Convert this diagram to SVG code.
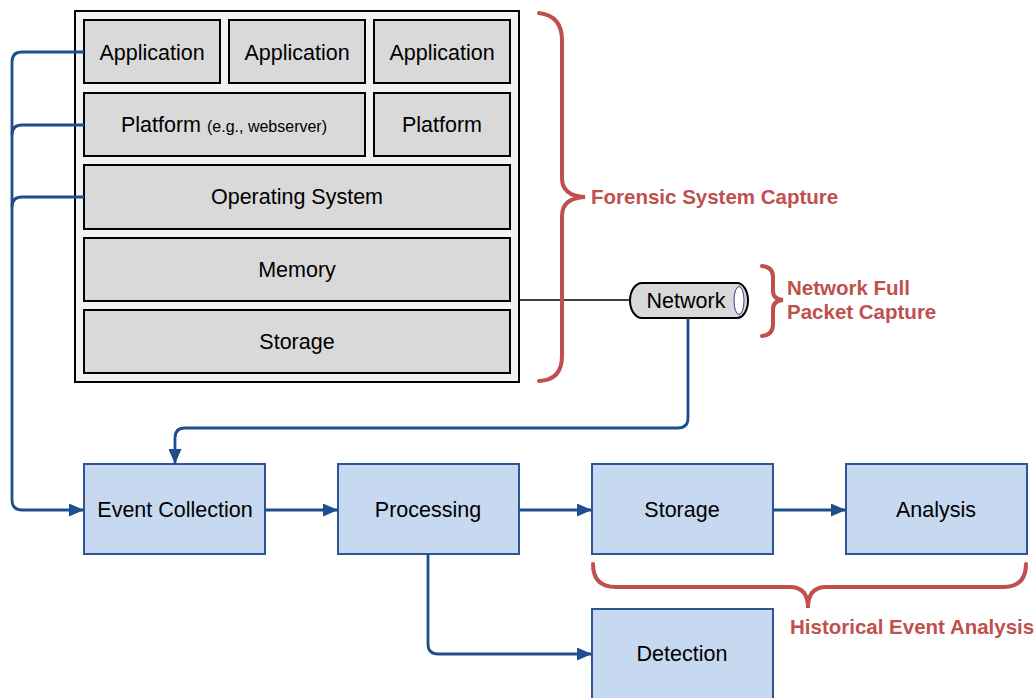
<svg xmlns="http://www.w3.org/2000/svg" width="1035" height="698" viewBox="0 0 1035 698">
<style>
.gray{fill:#d9d9d9;stroke:#000;stroke-width:2}
.blue{fill:#c6d9f0;stroke:#2f5597;stroke-width:2}
.t{font-family:"Liberation Sans",Arial,sans-serif;font-size:21.5px;fill:#000;text-anchor:middle}
.s{font-size:16px}
.r{font-family:"Liberation Sans",Arial,sans-serif;font-size:20.5px;font-weight:bold;fill:#c0504d}
.con{fill:none;stroke:#1f4e8c;stroke-width:2.8}
.br{fill:none;stroke:#c0504d;stroke-width:4;stroke-linecap:round}
</style>
<defs>
<marker id="ah" viewBox="0 0 15 13" refX="15" refY="6.5" markerWidth="15" markerHeight="13" markerUnits="userSpaceOnUse" orient="auto">
<path d="M0,0 L15,6.5 L0,13 Z" fill="#1f4e8c"/>
</marker>
</defs>
<rect width="1035" height="698" fill="#fff"/>
<g id="system">
<rect x="75" y="11" width="444" height="371" fill="#f2f2f2" stroke="#000" stroke-width="2"/>
</g>
<g id="app1"><rect class="gray" x="84" y="20" width="136" height="63"/><text class="t" x="152" y="60">Application</text></g>
<g id="app2"><rect class="gray" x="229" y="20" width="136" height="63"/><text class="t" x="297" y="60">Application</text></g>
<g id="app3"><rect class="gray" x="374" y="20" width="136" height="63"/><text class="t" x="442" y="60">Application</text></g>
<g id="platform1"><rect class="gray" x="84" y="93" width="281" height="63"/><text class="t" x="224" y="132">Platform <tspan class="s">(e.g., webserver)</tspan></text></g>
<g id="platform2"><rect class="gray" x="374" y="93" width="136" height="63"/><text class="t" x="442" y="132">Platform</text></g>
<g id="os"><rect class="gray" x="84" y="165" width="426" height="64"/><text class="t" x="297" y="204">Operating System</text></g>
<g id="memory"><rect class="gray" x="84" y="238" width="426" height="63"/><text class="t" x="297" y="277">Memory</text></g>
<g id="storage-layer"><rect class="gray" x="84" y="310" width="426" height="63"/><text class="t" x="297" y="349">Storage</text></g>
<g id="network">
<path d="M642,283 H737 A11,17.5 0 0 1 737,318 H642 A12,17.5 0 0 1 642,283 Z" fill="#d9d9d9" stroke="#000" stroke-width="2"/>
<ellipse cx="739" cy="300.5" rx="5" ry="14" fill="#fff" stroke="#3a3a9a" stroke-width="1"/>
<text class="t" x="686" y="308">Network</text>
</g>
<g id="event-collection"><rect class="blue" x="84" y="464" width="181" height="90"/><text class="t" x="175" y="517">Event Collection</text></g>
<g id="processing"><rect class="blue" x="338" y="464" width="181" height="90"/><text class="t" x="428" y="517">Processing</text></g>
<g id="storage"><rect class="blue" x="592" y="464" width="181" height="90"/><text class="t" x="682" y="517">Storage</text></g>
<g id="analysis"><rect class="blue" x="846" y="464" width="181" height="90"/><text class="t" x="936" y="517">Analysis</text></g>
<g id="detection"><rect class="blue" x="592" y="609" width="181" height="95"/><text class="t" x="682" y="661">Detection</text></g>
<g id="connectors">
<path class="con" d="M84,52 H22 Q12,52 12,62 V500 Q12,510 22,510 H84" marker-end="url(#ah)"/>
<path class="con" d="M84,125 H22 Q12,125 12,135"/>
<path class="con" d="M84,197 H22 Q12,197 12,207"/>
<line x1="519" y1="300" x2="630" y2="300" stroke="#000" stroke-width="1.5"/>
<path class="con" d="M688,318 V418 Q688,428 678,428 H185 Q175,428 175,438 V464" marker-end="url(#ah)"/>
<path class="con" d="M265,510 H338" marker-end="url(#ah)"/>
<path class="con" d="M519,510 H592" marker-end="url(#ah)"/>
<path class="con" d="M773,510 H846" marker-end="url(#ah)"/>
<path class="con" d="M428,554 V644 Q428,654 438,654 H592" marker-end="url(#ah)"/>
</g>
<g id="brace-forensic">
<path class="br" d="M539,13 Q562,16 562,40 V178 Q562,196 585,197 Q562,198 562,216 V356 Q562,380 539,381"/>
<text class="r" x="591" y="204">Forensic System Capture</text>
</g>
<g id="brace-network">
<path class="br" d="M762,266 Q773,267 773,277 V291 Q773,299 783,300 Q773,301 773,309 V324 Q773,335 762,336"/>
<text class="r" x="787" y="295">Network Full</text>
<text class="r" x="787" y="319">Packet Capture</text>
</g>
<g id="brace-historical">
<path class="br" d="M593,564 Q593,587 616,587 H790 Q808,587 808,608 Q808,587 826,587 H1003 Q1026,587 1026,564"/>
<text class="r" x="790" y="634">Historical Event Analysis</text>
</g>
</svg>
